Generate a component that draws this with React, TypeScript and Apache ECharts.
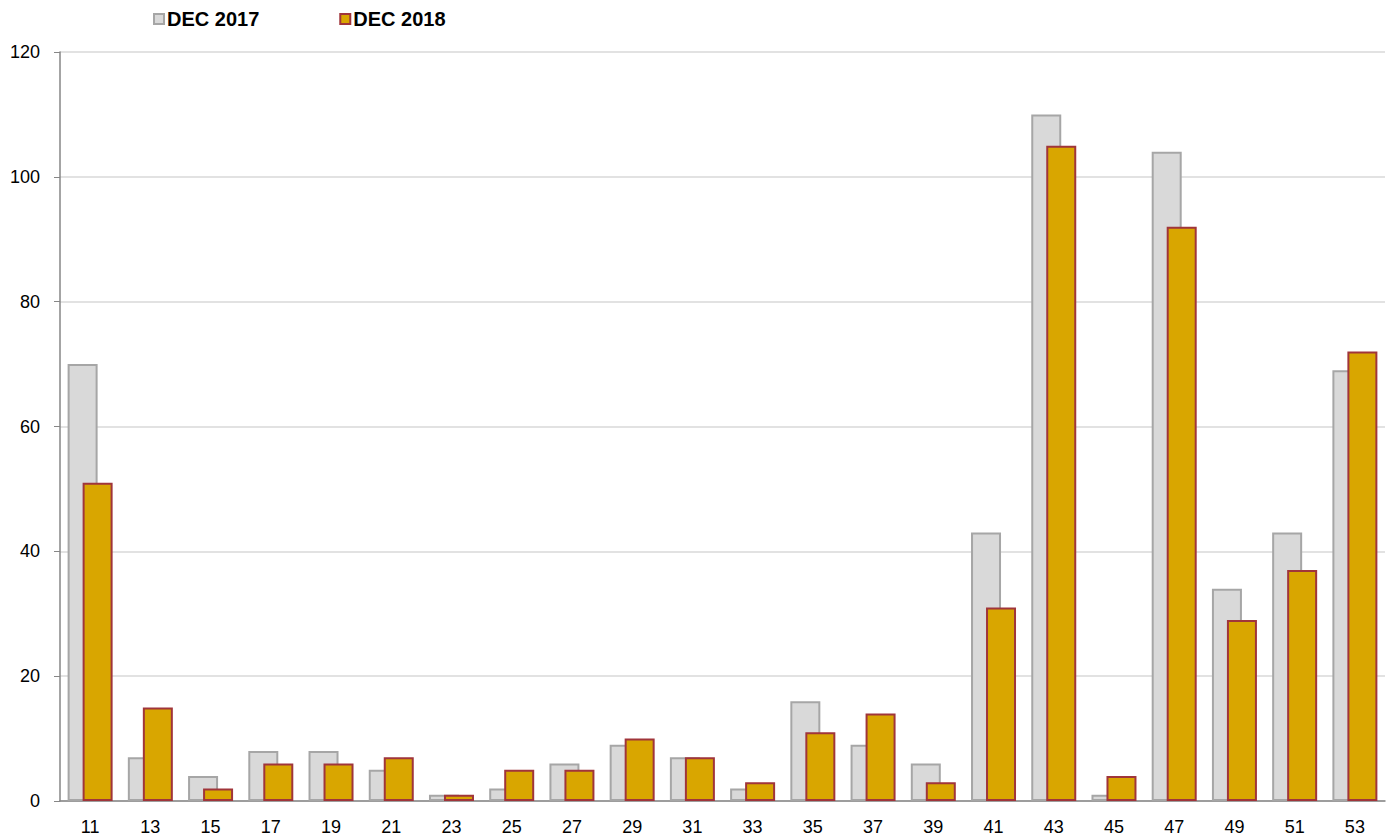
import React, { useEffect, useRef } from "react";
import * as echarts from "echarts";

const categories = ["11", "13", "15", "17", "19", "21", "23", "25", "27", "29", "31", "33", "35", "37", "39", "41", "43", "45", "47", "49", "51", "53"];
const dec2017 = [70, 7, 4, 8, 8, 5, 1, 2, 6, 9, 7, 2, 16, 9, 6, 43, 110, 1, 104, 34, 43, 69];
const dec2018 = [51, 15, 2, 6, 6, 7, 1, 5, 5, 10, 7, 3, 11, 14, 3, 31, 105, 4, 92, 29, 37, 72];

export default function App() {
  const ref = useRef<HTMLDivElement>(null);

  useEffect(() => {
    if (!ref.current) return;
    const chart = echarts.init(ref.current, undefined, { renderer: "svg" });
    chart.setOption({
      animation: false,
      textStyle: { fontFamily: "Liberation Sans, Arial, sans-serif" },
      legend: {
        left: 153,
        top: 9,
        padding: 0,
        itemWidth: 10,
        itemHeight: 10,
        itemGap: 80,
        icon: "rect",
        textStyle: { fontSize: 20, fontWeight: "bold", color: "#000", padding: [0, 0, 0, -2] },
        data: ["DEC 2017", "DEC 2018"],
      },
      grid: { left: 60, right: 6, top: 52, bottom: 37, containLabel: false },
      xAxis: {
        type: "category",
        data: categories,
        axisLine: { lineStyle: { color: "#868686", width: 1.5 } },
        axisTick: { alignWithLabel: false, length: 6, lineStyle: { color: "#868686" } },
        axisLabel: { color: "#000", fontSize: 18, margin: 17 },
      },
      yAxis: {
        type: "value",
        min: 0,
        max: 120,
        interval: 20,
        axisLine: { show: true, lineStyle: { color: "#868686", width: 1.5 } },
        axisTick: { show: true, length: 6, lineStyle: { color: "#868686" } },
        axisLabel: { color: "#000", fontSize: 18, margin: 20 },
        splitLine: { lineStyle: { color: "#d9d9d9", width: 1.5 } },
      },
      series: [
        {
          name: "DEC 2017",
          type: "bar",
          data: dec2017,
          barWidth: 30,
          barGap: "-50%",
          itemStyle: { color: "#d9d9d9", borderColor: "#a6a6a6", borderWidth: 2 },
        },
        {
          name: "DEC 2018",
          type: "bar",
          data: dec2018,
          barWidth: 30,
          barGap: "-50%",
          itemStyle: { color: "#d9a600", borderColor: "#a0353a", borderWidth: 2 },
        },
      ],
    });
    return () => chart.dispose();
  }, []);

  return (
    <div
      ref={ref}
      style={{ position: "absolute", left: 0, top: 0, width: 1391, height: 838 }}
    />
  );
}
